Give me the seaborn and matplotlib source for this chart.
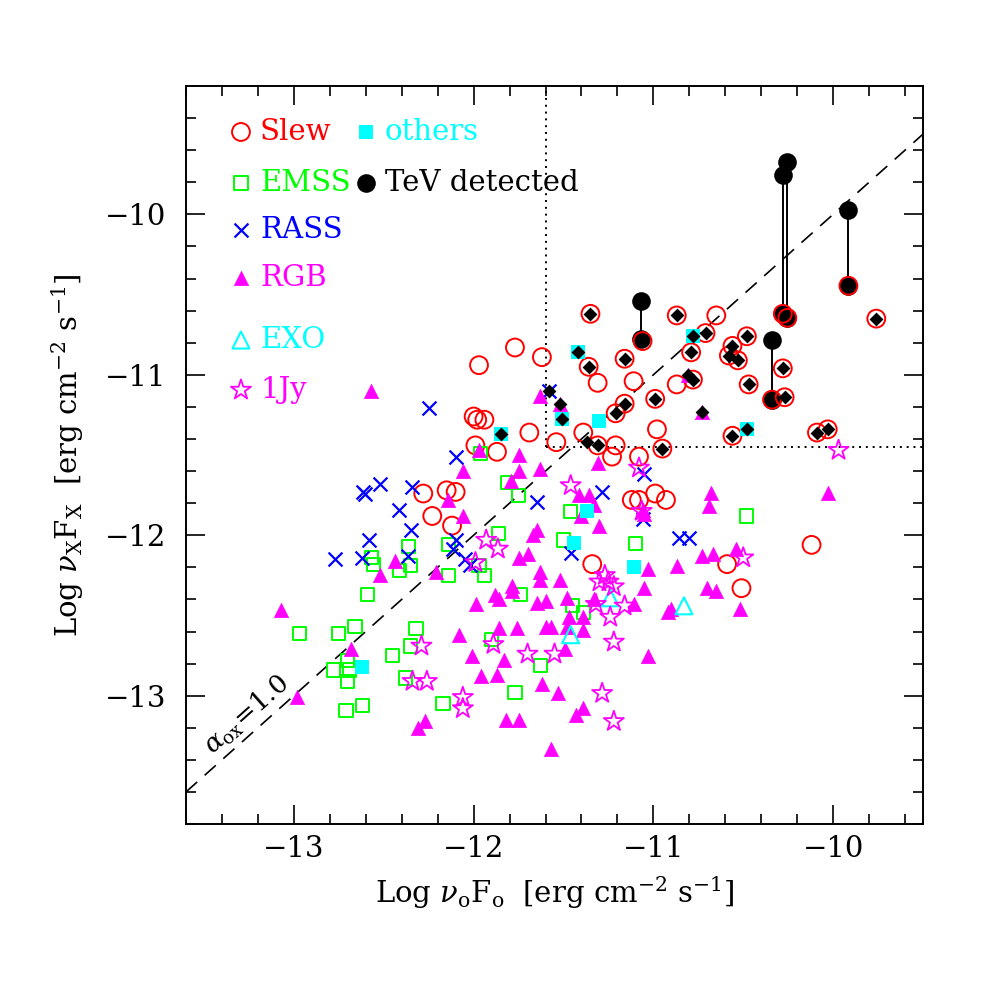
import numpy as np
import pandas as pd
import matplotlib
matplotlib.use("Agg")
import matplotlib.pyplot as plt
import seaborn as sns
from matplotlib.ticker import MultipleLocator

# ---- data (log nu_o F_o , log nu_x F_x) ----
# Slew survey (red open circles)
slew_x = [-11.77, -11.97, -11.62, -12.00, -11.98, -11.94, -11.69, -11.99, -11.87, -11.54,
          -12.28, -12.15, -12.10, -12.23, -12.12, -11.31, -11.11, -10.87, -10.65, -11.39,
          -11.21, -11.23, -11.08, -10.98, -11.12, -11.08, -10.99, -10.93, -11.34, -10.59,
          -10.51, -10.12,
          -11.35, -10.87, -9.76, -10.71, -10.79, -10.56, -10.58, -10.53, -10.48, -11.16,
          -11.36, -10.78, -10.47, -10.28, -10.27, -10.99, -11.16, -11.21, -11.31, -10.95,
          -10.56, -10.09, -10.03,
          -11.06, -10.28, -10.255, -9.915, -10.34]
slew_y = [-10.83, -10.94, -10.89, -11.26, -11.28, -11.28, -11.36, -11.44, -11.48, -11.42,
          -11.74, -11.72, -11.73, -11.88, -11.94, -11.05, -11.04, -11.06, -10.63, -11.36,
          -11.44, -11.51, -11.51, -11.34, -11.78, -11.78, -11.74, -11.78, -12.18, -12.18,
          -12.33, -12.06,
          -10.62, -10.63, -10.65, -10.74, -10.86, -10.82, -10.88, -10.91, -10.76, -10.90,
          -10.95, -11.03, -11.06, -10.96, -11.14, -11.15, -11.18, -11.24, -11.44, -11.46,
          -11.38, -11.36, -11.34,
          -10.79, -10.62, -10.645, -10.445, -11.155]

# EMSS (green open squares)
emss_x = [-11.96, -11.81, -11.75, -11.86, -12.14, -12.36, -12.57, -12.555, -12.41, -12.35,
          -12.14, -11.97, -11.94, -12.59, -11.74, -12.97, -12.75, -12.66, -12.32, -12.35,
          -12.45, -12.78, -12.70, -12.69, -12.70, -12.71, -12.62, -12.38, -11.90, -11.63,
          -11.77, -12.17, -11.46, -11.50, -11.10, -10.48, -11.45, -11.39]
emss_y = [-11.49, -11.67, -11.75, -11.99, -12.06, -12.07, -12.14, -12.18, -12.22, -12.19,
          -12.25, -12.19, -12.25, -12.37, -12.37, -12.61, -12.61, -12.57, -12.58, -12.69,
          -12.75, -12.84, -12.78, -12.84, -12.91, -13.09, -13.06, -12.89, -12.65, -12.81,
          -12.98, -13.05, -11.85, -12.03, -12.05, -11.88, -12.44, -12.48]

# RASS (blue crosses)
rass_x = [-12.25, -12.10, -12.34, -12.52, -12.615, -12.605, -12.415, -12.35, -12.58, -12.77,
          -12.62, -12.365, -11.65, -12.10, -12.115, -12.05, -12.02, -11.58, -11.285, -11.05,
          -11.06, -11.46, -10.86, -10.80]
rass_y = [-11.21, -11.51, -11.70, -11.68, -11.73, -11.745, -11.84, -11.97, -12.03, -12.15,
          -12.14, -12.13, -11.79, -12.03, -12.085, -12.15, -12.185, -11.10, -11.73, -11.62,
          -11.90, -12.11, -12.02, -12.02]

# RGB (magenta filled triangles)
rgb_x = [-12.57, -11.63, -11.97, -11.75, -12.06, -11.75, -11.63, -11.79, -12.14, -12.06,
         -11.65, -11.67, -12.44, -12.52, -12.21, -11.75, -11.70, -11.63, -11.63, -11.52,
         -11.785, -11.785, -11.88, -11.86, -11.985, -11.65, -11.60, -13.07, -11.86, -11.76,
         -11.60, -11.57, -12.08, -12.68, -12.01, -11.83, -11.96, -11.87, -11.62, -11.53,
         -12.985, -12.31, -12.27, -11.82, -11.75, -11.57, -11.03, -10.87, -10.73, -10.67,
         -10.54, -10.70, -10.65, -11.05, -11.48, -11.33, -11.47, -11.39, -11.11, -10.92,
         -10.90, -11.48, -11.39, -11.49, -11.03, -10.52, -11.43, -11.39, -11.31, -11.415,
         -11.36, -11.33, -11.40, -11.30, -10.68, -10.69, -10.03, -11.06, -11.05, -11.52,
         -10.73, -10.81]
rgb_y = [-11.10, -11.13, -11.47, -11.50, -11.60, -11.60, -11.59, -11.66, -11.78, -11.88,
         -11.97, -12.00, -12.16, -12.25, -12.23, -12.14, -12.12, -12.23, -12.28, -12.28,
         -12.315, -12.35, -12.37, -12.40, -12.43, -12.42, -12.41, -12.465, -12.58, -12.58,
         -12.57, -12.575, -12.62, -12.71, -12.75, -12.78, -12.88, -12.87, -12.93, -12.985,
         -13.01, -13.20, -13.16, -13.15, -13.15, -13.33, -12.21, -12.19, -12.13, -12.12,
         -12.085, -12.33, -12.35, -12.33, -12.39, -12.40, -12.51, -12.51, -12.43, -12.48,
         -12.46, -12.575, -12.59, -12.71, -12.75, -12.46, -13.12, -13.075, -11.55, -11.75,
         -11.75, -11.81, -11.88, -11.94, -11.735, -11.82, -11.735, -11.84, -11.87, -11.18,
         -11.23, -11.00]

# EXO (cyan open triangles)
exo_x = [-11.24, -11.46, -10.83]
exo_y = [-12.39, -12.62, -12.44]

# 1Jy (magenta open stars)
jy_x = [-11.93, -11.865, -11.99, -12.29, -11.89, -11.70, -11.55, -12.34, -12.26, -12.06,
        -12.06, -11.08, -11.46, -11.065, -9.97, -10.50, -11.27, -11.30, -11.25, -11.22,
        -11.32, -11.16, -11.24, -11.22, -11.285, -11.22]
jy_y = [-12.03, -12.085, -12.17, -12.69, -12.68, -12.74, -12.74, -12.91, -12.91, -13.01,
        -13.08, -11.58, -11.69, -11.85, -11.47, -12.14, -12.25, -12.29, -12.29, -12.32,
        -12.43, -12.44, -12.51, -12.665, -12.985, -13.16]

# others (cyan filled squares)
oth_x = [-11.42, -11.51, -10.78, -10.48, -11.85, -11.30, -12.62, -11.37, -11.44, -11.11]
oth_y = [-10.86, -11.275, -10.76, -11.34, -11.37, -11.29, -12.82, -11.85, -12.05, -12.20]

# black diamonds drawn on top of some sources
flag_x = [-11.35, -10.87, -9.76, -10.71, -10.79, -10.56, -10.58, -10.53, -10.48, -11.16,
          -11.36, -10.78, -10.47, -10.28, -10.27, -10.99, -11.16, -11.21, -11.31, -10.95,
          -10.56, -10.09, -10.03,
          -11.52, -10.73, -10.81, -11.42, -11.51, -10.78, -10.48, -11.85, -11.58, -11.37]
flag_y = [-10.62, -10.63, -10.65, -10.74, -10.86, -10.82, -10.88, -10.91, -10.76, -10.90,
          -10.95, -11.03, -11.06, -10.96, -11.14, -11.15, -11.18, -11.24, -11.44, -11.46,
          -11.38, -11.36, -11.34,
          -11.18, -11.23, -11.00, -10.86, -11.275, -10.76, -11.34, -11.37, -11.10, -11.42]

# TeV detected: high / low state joined by a line
tev_x = [-11.07, -10.28, -10.255, -9.915, -10.34]
tev_hi = [-10.54, -9.755, -9.675, -9.975, -10.785]
tev_lo = [-10.775, -10.62, -10.645, -10.445, -11.155]

xlim = (-13.6, -9.5)
ylim = (-13.8, -9.2)
cut_x, cut_y = -11.6, -11.45   # dotted selection box

RED, GREEN, BLUE, MAG, CYAN = "#ff0000", "#00ff00", "#0000ff", "#ff00ff", "#00ffff"

sns.set_style("ticks")
plt.rcParams["font.family"] = ["DejaVu Serif"]
plt.rcParams["mathtext.fontset"] = "dejavuserif"
plt.rcParams["axes.linewidth"] = 1.4
for key in ["text.color", "axes.labelcolor", "xtick.color", "ytick.color", "axes.edgecolor"]:
    plt.rcParams[key] = "black"

fig = plt.figure(figsize=(10.08, 10.08), dpi=100)
ax = fig.add_axes([0.1845, 0.1825, 0.7312, 0.7322])


def df(x, y):
    return pd.DataFrame({"x": x, "y": y})


# marker styles
st_slew = dict(marker="o", s=165, facecolor="none", edgecolor=RED, linewidth=1.4)
st_emss = dict(marker="s", s=90, facecolor="none", edgecolor=GREEN, linewidth=1.4)
st_rass = dict(marker="x", s=100, color=BLUE, linewidth=1.6)
st_rgb = dict(marker="^", s=105, color=MAG, edgecolor=MAG, linewidth=0.5)
st_exo = dict(marker="^", s=150, facecolor="none", edgecolor=CYAN, linewidth=1.5)
st_jy = dict(marker="*", s=230, facecolor="none", edgecolor=MAG, linewidth=1.3)
st_oth = dict(marker="s", s=90, color=CYAN, edgecolor=CYAN, linewidth=0)
st_tev = dict(marker="o", s=180, color="black", edgecolor="black", linewidth=0)

# reference lines
ax.plot(xlim, xlim, color="black", lw=1.2, ls=(0, (9, 6)), zorder=1)
ax.plot([cut_x, cut_x], [cut_y, ylim[1]], color="black", lw=1.4, ls=(0, (1, 2.5)), zorder=1)
ax.plot([cut_x, xlim[1]], [cut_y, cut_y], color="black", lw=1.4, ls=(0, (1, 2.5)), zorder=1)

# TeV sources
ax.vlines(tev_x, tev_lo, tev_hi, color="black", lw=1.4, zorder=2.5)
tev = pd.DataFrame({"x": tev_x * 2, "y": tev_hi + tev_lo})
sns.scatterplot(data=tev, x="x", y="y", legend=False, ax=ax, zorder=2.6, **st_tev)

sns.scatterplot(data=df(slew_x, slew_y), x="x", y="y", legend=False, ax=ax, zorder=3, **st_slew)
sns.scatterplot(data=df(emss_x, emss_y), x="x", y="y", legend=False, ax=ax, zorder=3.1, **st_emss)
sns.scatterplot(data=df(rass_x, rass_y), x="x", y="y", legend=False, ax=ax, zorder=3.2, **st_rass)
sns.scatterplot(data=df(rgb_x, rgb_y), x="x", y="y", legend=False, ax=ax, zorder=3.3, **st_rgb)
sns.scatterplot(data=df(exo_x, exo_y), x="x", y="y", legend=False, ax=ax, zorder=3.4, **st_exo)
sns.scatterplot(data=df(jy_x, jy_y), x="x", y="y", legend=False, ax=ax, zorder=3.5, **st_jy)
sns.scatterplot(data=df(oth_x, oth_y), x="x", y="y", legend=False, ax=ax, zorder=3.6, **st_oth)
sns.scatterplot(data=df(flag_x, flag_y), x="x", y="y", marker="D", s=50, color="black",
                edgecolor="black", linewidth=0, legend=False, ax=ax, zorder=3.8)

# alpha_ox label along the dashed line
ax.text(-13.26, -13.12, r"$\alpha_{\rm ox}$=1.0", rotation=41.6, rotation_mode="anchor",
        ha="center", va="center", fontsize=19, color="black")

# legend, drawn by hand
leg_fs = 21
col1 = [("Slew", st_slew, RED, 0.9377),
        ("EMSS", st_emss, GREEN, 0.8686),
        ("RASS", st_rass, BLUE, 0.8049),
        ("RGB", st_rgb, MAG, 0.7398),
        ("EXO", st_exo, CYAN, 0.6558),
        ("1Jy", st_jy, MAG, 0.5881)]
col2 = [("others", st_oth, CYAN, 0.9377),
        ("TeV detected", st_tev, "black", 0.8686)]
for entries, mx, tx in [(col1, 0.0746, 0.1004), (col2, 0.2442, 0.2700)]:
    for label, kw, c, yy in entries:
        ax.scatter([mx], [yy], transform=ax.transAxes, clip_on=False, zorder=5, **kw)
        ax.text(tx, yy, label, transform=ax.transAxes, color=c, fontsize=leg_fs,
                va="center", ha="left")

ax.set_xlim(*xlim)
ax.set_ylim(*ylim)
ax.xaxis.set_major_locator(MultipleLocator(1))
ax.yaxis.set_major_locator(MultipleLocator(1))
ax.xaxis.set_minor_locator(MultipleLocator(0.2))
ax.yaxis.set_minor_locator(MultipleLocator(0.2))
ax.tick_params(which="both", direction="in", top=True, right=True, color="black")
ax.tick_params(which="major", length=14, width=1.2, labelsize=21)
ax.tick_params(which="minor", length=7, width=1.2)
ax.tick_params(axis="x", which="major", pad=8)
ax.tick_params(axis="y", which="major", pad=14)

ax.set_xlabel(r"Log $\nu_{\rm o}$F$_{\rm o}$  [erg cm$^{-2}$ s$^{-1}$]", fontsize=21, labelpad=8)
ax.set_ylabel(r"Log $\nu_{\rm X}$F$_{\rm X}$  [erg cm$^{-2}$ s$^{-1}$]", fontsize=21, labelpad=14)

plt.savefig("out.png", dpi=100)
